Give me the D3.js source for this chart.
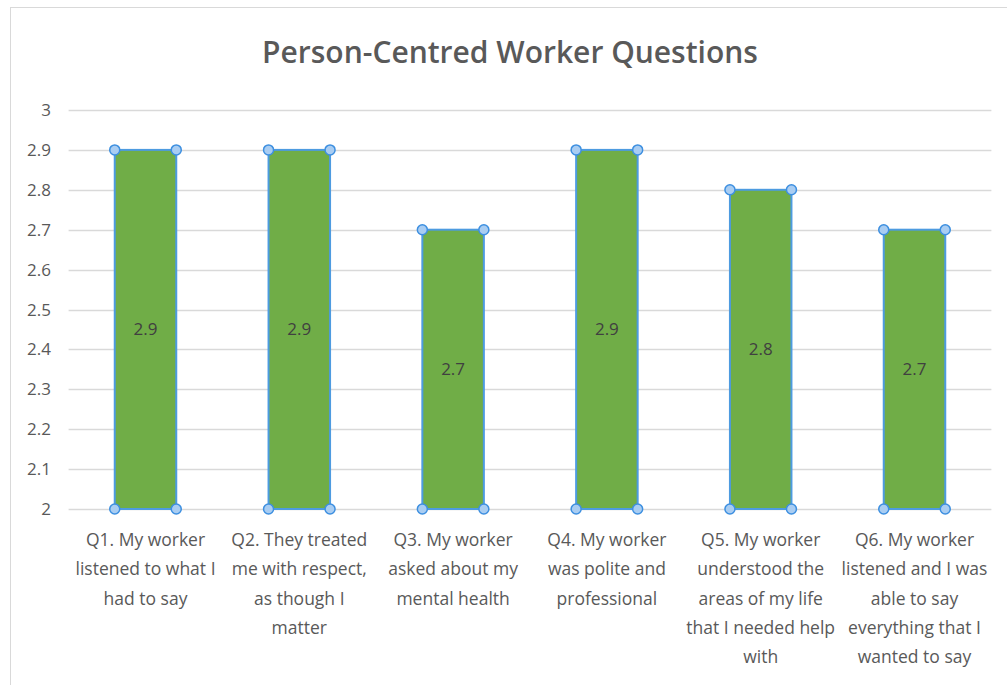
<!DOCTYPE html>
<html>
<head>
<meta charset="utf-8">
<script src="https://cdn.jsdelivr.net/npm/d3@7"></script>
<style>
  body { margin: 0; background: #fff; }
  svg { display: block; font-family: "Open Sans", "Noto Sans", sans-serif; }
</style>
</head>
<body>
<svg width="1007" height="685"></svg>
<script>
// chart data
const questions = ["Q1", "Q2", "Q3", "Q4", "Q5", "Q6"];
const questionLabels = [
    ["Q1. My worker", "listened to what I", "had to say"],
    ["Q2. They treated", "me with respect,", "as though I", "matter"],
    ["Q3. My worker", "asked about my", "mental health"],
    ["Q4. My worker", "was polite and", "professional"],
    ["Q5. My worker", "understood the", "areas of my life", "that I needed help", "with"],
    ["Q6. My worker", "listened and I was", "able to say", "everything that I", "wanted to say"]
];
const scores = [2.9, 2.9, 2.7, 2.9, 2.8, 2.7];
const yTicks = [2, 2.1, 2.2, 2.3, 2.4, 2.5, 2.6, 2.7, 2.8, 2.9, 3];

const svg = d3.select("svg");

// chart area border
svg.append("rect")
    .attr("x", 10.5)
    .attr("y", 7.5)
    .attr("width", 1100)
    .attr("height", 800)
    .attr("fill", "none")
    .attr("stroke", "#d9d9d9");

// title
svg.append("text")
    .attr("x", 510)
    .attr("y", 63)
    .attr("text-anchor", "middle")
    .attr("font-size", "30px")
    .attr("font-weight", "600")
    .attr("fill", "#595959")
    .text("Person-Centred Worker Questions");

const plotLeft = 68.6, plotRight = 991.4, plotTop = 110, plotBottom = 509;

const x = d3.scaleBand()
    .domain(questions)
    .range([plotLeft, plotRight])
    .paddingInner(0.6)
    .paddingOuter(0.3);

const y = d3.scaleLinear()
    .domain([2, 3])
    .range([plotBottom, plotTop]);

// gridlines
svg.append("g")
    .selectAll("line")
    .data(yTicks)
    .enter()
    .append("line")
    .attr("x1", plotLeft)
    .attr("x2", plotRight)
    .attr("y1", d => Math.round(y(d)) + 0.5)
    .attr("y2", d => Math.round(y(d)) + 0.5)
    .attr("stroke", "#d9d9d9")
    .attr("stroke-width", 1.5);

// y tick labels
svg.append("g")
    .selectAll("text")
    .data(yTicks)
    .enter()
    .append("text")
    .attr("x", 51)
    .attr("y", d => y(d) + 6)
    .attr("text-anchor", "end")
    .attr("font-size", "17px")
    .attr("fill", "#595959")
    .text(d => d3.format("~g")(d));

// bars
svg.append("g")
    .selectAll("rect")
    .data(scores)
    .enter()
    .append("rect")
    .attr("x", (d, i) => x(questions[i]))
    .attr("y", d => y(d))
    .attr("width", x.bandwidth())
    .attr("height", d => y(2) - y(d))
    .attr("fill", "#70ad47")
    .attr("stroke", "#4d9be0")
    .attr("stroke-width", 2);

// selection handles at corners
const handles = [];
scores.forEach((d, i) => {
    const x0 = x(questions[i]), x1 = x0 + x.bandwidth();
    handles.push([x0, y(d)], [x1, y(d)], [x0, y(2)], [x1, y(2)]);
});
svg.append("g")
    .selectAll("circle")
    .data(handles)
    .enter()
    .append("circle")
    .attr("cx", d => d[0])
    .attr("cy", d => d[1])
    .attr("r", 5)
    .attr("fill", "#a9cdf2")
    .attr("stroke", "#3d8fe0")
    .attr("stroke-width", 1.5);

// value labels
svg.append("g")
    .selectAll("text")
    .data(scores)
    .enter()
    .append("text")
    .attr("x", (d, i) => x(questions[i]) + x.bandwidth() / 2)
    .attr("y", d => (y(d) + y(2)) / 2 + 6)
    .attr("text-anchor", "middle")
    .attr("font-size", "17px")
    .attr("fill", "#404040")
    .text(d => d);

// category labels
const cat = svg.append("g")
    .selectAll("text")
    .data(questionLabels)
    .enter()
    .append("text")
    .attr("text-anchor", "middle")
    .attr("font-size", "17.5px")
    .attr("fill", "#595959");

cat.each(function(lines, i) {
    d3.select(this).selectAll("tspan")
        .data(lines)
        .enter()
        .append("tspan")
        .attr("x", x(questions[i]) + x.bandwidth() / 2)
        .attr("y", (d, j) => 546 + j * 29.3)
        .text(d => d);
});
</script>
</body>
</html>
